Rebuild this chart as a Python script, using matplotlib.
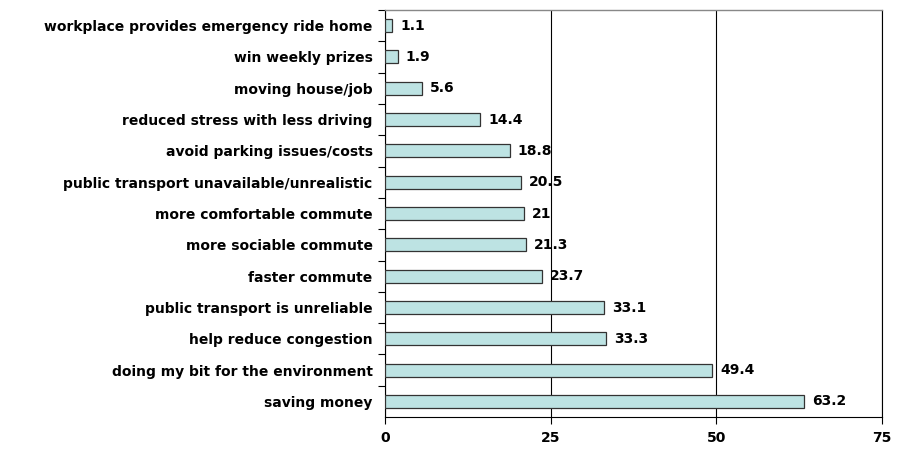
import matplotlib.pyplot as plt
from matplotlib.ticker import FixedLocator

plt.rcParams['font.family'] = ['DejaVu Sans']

# data, top to bottom as in the chart
reasons = [
    "workplace provides emergency ride home",
    "win weekly prizes",
    "moving house/job",
    "reduced stress with less driving",
    "avoid parking issues/costs",
    "public transport unavailable/unrealistic",
    "more comfortable commute",
    "more sociable commute",
    "faster commute",
    "public transport is unreliable",
    "help reduce congestion",
    "doing my bit for the environment",
    "saving money",
]
percent = [1.1, 1.9, 5.6, 14.4, 18.8, 20.5, 21, 21.3, 23.7, 33.1, 33.3, 49.4, 63.2]
value_labels = ["1.1", "1.9", "5.6", "14.4", "18.8", "20.5", "21", "21.3", "23.7",
                "33.1", "33.3", "49.4", "63.2"]
xticks = [0, 25, 50, 75]

fig = plt.figure(figsize=(9.06, 4.5), dpi=100)
ax = fig.add_axes([0.425, 0.073, 0.5485, 0.905])

n = len(reasons)
ypos = list(range(n))
ax.barh(ypos, percent, height=0.42, color="#BDE3E3", edgecolor="#333333", linewidth=0.9, zorder=3)

for y, v, lab in zip(ypos, percent, value_labels):
    ax.text(v + 1.2, y, lab, va="center", ha="left", fontsize=10, fontweight="bold", zorder=4)

ax.set_xlim(0, 75)
ax.set_ylim(n - 0.5, -0.5)
ax.set_xticks(xticks)
ax.set_xticklabels([str(t) for t in xticks], fontsize=10, fontweight="bold")
ax.tick_params(axis="x", direction="out", length=5, pad=5, width=0.8)

ax.set_yticks(ypos)
ax.set_yticklabels(reasons, fontsize=10, fontweight="bold")
ax.tick_params(axis="y", which="major", length=0, pad=9)
ax.yaxis.set_minor_locator(FixedLocator([i + 0.5 for i in range(n - 1)] + [-0.5]))
ax.tick_params(axis="y", which="minor", direction="out", length=5, width=0.8)

ax.xaxis.grid(True, color="black", linewidth=0.8, zorder=0)
for side in ["left", "bottom", "right"]:
    ax.spines[side].set_color("black")
    ax.spines[side].set_linewidth(0.8)
ax.spines["top"].set_color("#888888")
ax.spines["top"].set_linewidth(1.0)

fig.savefig("out.png", dpi=100)
